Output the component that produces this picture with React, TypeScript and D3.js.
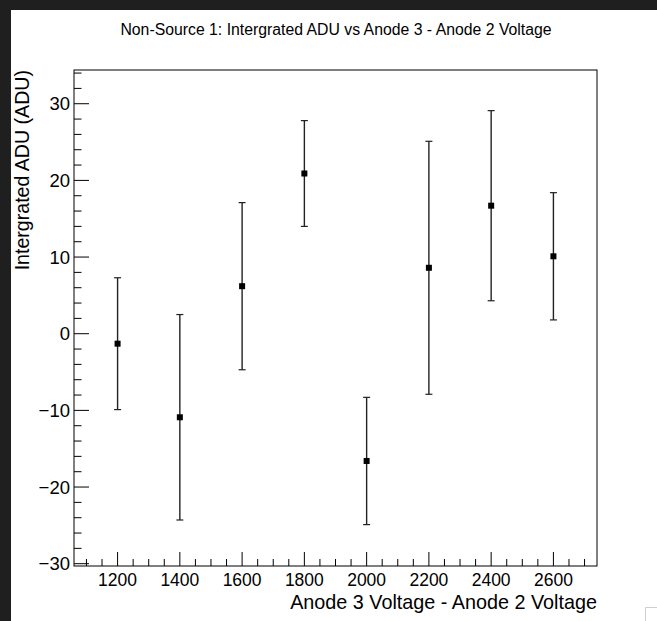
import React from "react";
import * as d3 from "d3";

const voltages = [1200, 1400, 1600, 1800, 2000, 2200, 2400, 2600];
const adu = [-1.3, -10.9, 6.2, 20.9, -16.6, 8.6, 16.7, 10.1];
const aduErr = [8.6, 13.4, 10.9, 6.9, 8.3, 16.5, 12.4, 8.3];
const xMajorTicks = [1200, 1400, 1600, 1800, 2000, 2200, 2400, 2600];
const yMajorTicks = [-30, -20, -10, 0, 10, 20, 30];

const W = 657;
const H = 621;
const frame = { left: 74, right: 597, top: 70, bottom: 566 };

export default function App() {
  const x = d3.scaleLinear().domain([1060, 2740]).range([frame.left, frame.right]);
  const y = d3.scaleLinear().domain([-30.3, 34.4]).range([frame.bottom, frame.top]);

  const xMinor = d3.range(1100, 2740, 50).filter((v) => x(v) >= frame.left && x(v) <= frame.right);
  const yMinor = d3.range(-30, 34.5, 2).filter((v) => y(v) >= frame.top && y(v) <= frame.bottom);

  const font = "'Liberation Sans', Arial, Helvetica, sans-serif";
  const fmtY = (v: number) => (v < 0 ? "\u2212" + Math.abs(v) : String(v));

  return (
    <svg
      width={W}
      height={H}
      style={{ position: "absolute", left: 0, top: 0, display: "block" }}
      fontFamily={font}
    >
      <rect x={0} y={0} width={W} height={H} fill="#1f1f1f" />
      <rect x={11} y={10} width={W - 11} height={H - 10} fill="#ffffff" />

      <text x={336} y={35} textAnchor="middle" fontSize={15.8} fill="#000">
        Non-Source 1: Intergrated ADU vs Anode 3 - Anode 2 Voltage
      </text>

      {/* frame */}
      <rect
        x={frame.left}
        y={frame.top}
        width={frame.right - frame.left}
        height={frame.bottom - frame.top}
        fill="none"
        stroke="#000"
        strokeWidth={1}
      />

      {/* x ticks */}
      {xMinor.map((v) => {
        const major = v % 200 === 0;
        return (
          <line
            key={"xt" + v}
            x1={x(v)}
            x2={x(v)}
            y1={frame.bottom}
            y2={frame.bottom - (major ? 14 : 7)}
            stroke="#000"
            strokeWidth={1}
          />
        );
      })}
      {xMajorTicks.map((v) => (
        <text key={"xl" + v} x={x(v)} y={586} textAnchor="middle" fontSize={17.5} fill="#000">
          {v}
        </text>
      ))}

      {/* y ticks */}
      {yMinor.map((v) => {
        const major = Math.round(v) % 10 === 0;
        return (
          <line
            key={"yt" + v}
            x1={frame.left}
            x2={frame.left + (major ? 15 : 7.5)}
            y1={y(v)}
            y2={y(v)}
            stroke="#000"
            strokeWidth={1}
          />
        );
      })}
      {yMajorTicks.map((v) => (
        <text
          key={"yl" + v}
          x={frame.left - 4}
          y={y(v)}
          dy="0.36em"
          textAnchor="end"
          fontSize={18.5}
          fill="#000"
        >
          {fmtY(v)}
        </text>
      ))}

      {/* axis titles */}
      <text x={597} y={609} textAnchor="end" fontSize={19.8} fill="#000">
        Anode 3 Voltage - Anode 2 Voltage
      </text>
      <text
        transform={`translate(29, ${frame.top}) rotate(-90)`}
        textAnchor="end"
        fontSize={19.6}
        fill="#000"
      >
        Intergrated ADU (ADU)
      </text>

      {/* error bars and markers */}
      {voltages.map((v, i) => {
        const cx = x(v);
        const yTop = y(adu[i] + aduErr[i]);
        const yBot = y(adu[i] - aduErr[i]);
        return (
          <g key={"pt" + v}>
            <line x1={cx} x2={cx} y1={yTop} y2={yBot} stroke="#222" strokeWidth={1.4} />
            <line x1={cx - 3.5} x2={cx + 3.5} y1={yTop} y2={yTop} stroke="#222" strokeWidth={1.2} />
            <line x1={cx - 3.5} x2={cx + 3.5} y1={yBot} y2={yBot} stroke="#222" strokeWidth={1.2} />
            <rect x={cx - 3} y={y(adu[i]) - 3} width={6} height={6} fill="#000" />
          </g>
        );
      })}

      {/* small corner mark */}
      <path d="M645.5,621 V607.5 H657" fill="none" stroke="#cfcfcf" strokeWidth={1} />
    </svg>
  );
}
